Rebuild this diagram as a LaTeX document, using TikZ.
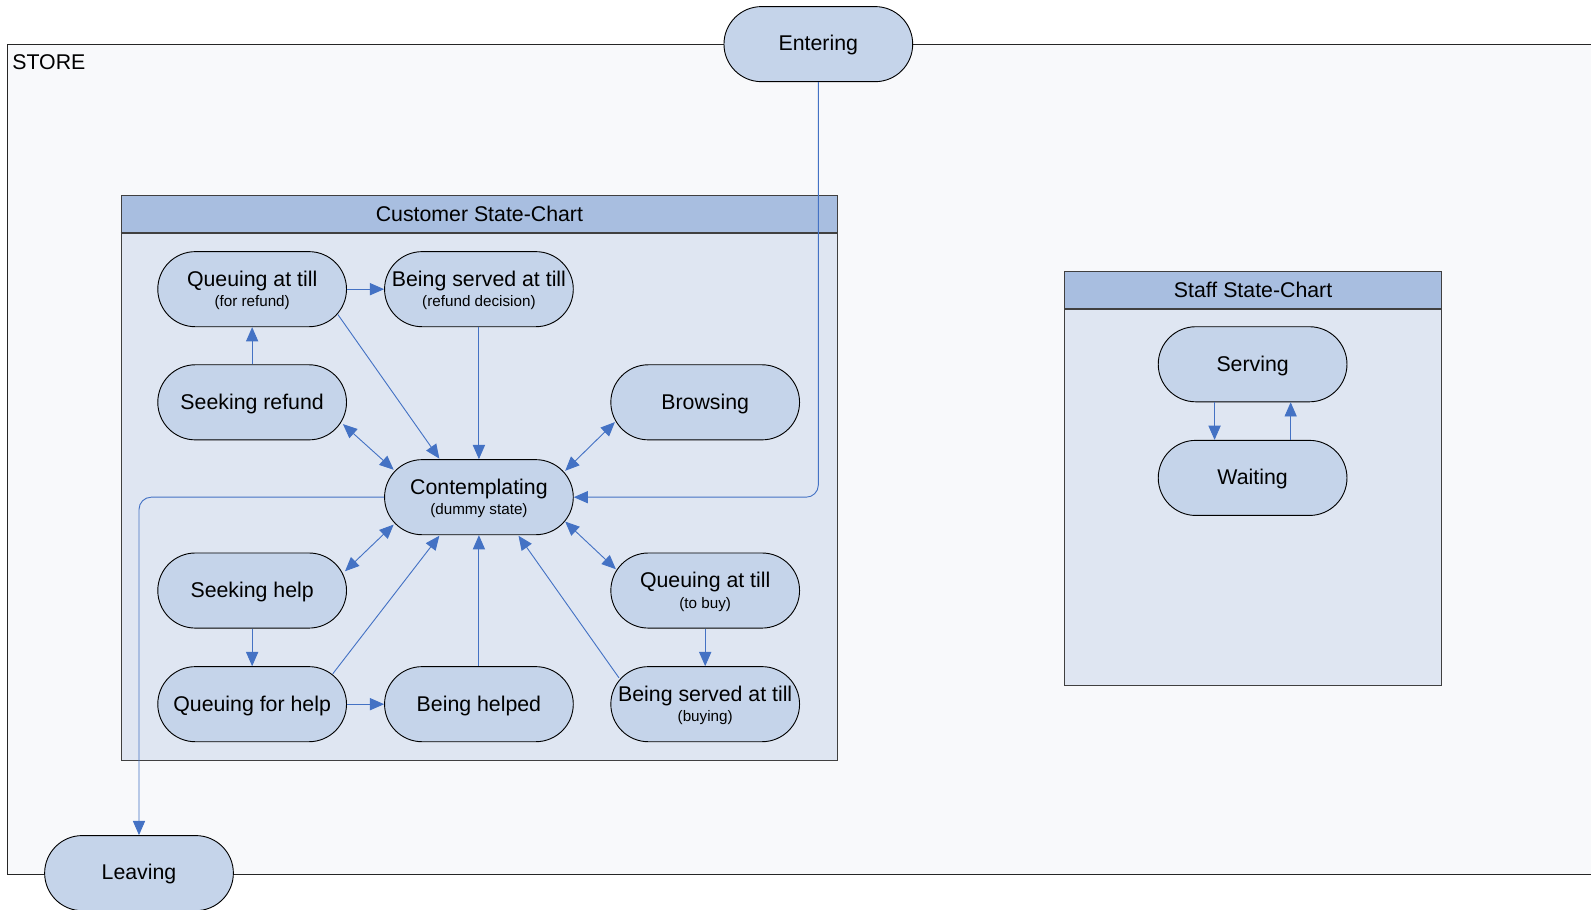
\documentclass[tikz,border=0pt]{standalone}
\usepackage{fontspec}
\setmainfont{Liberation Sans}
\usetikzlibrary{arrows.meta,calc}
\definecolor{arrowblue}{RGB}{68,114,196}
\definecolor{nodefill}{RGB}{197,212,234}
\definecolor{boxfill}{RGB}{223,230,242}
\definecolor{headfill}{RGB}{168,190,224}
\definecolor{storefill}{RGB}{248,249,251}
\newcommand\mainf{\fontsize{21}{21}\selectfont}
\newcommand\subf{\fontsize{15}{15}\selectfont}
\newcommand\upstrut{\rule{0pt}{18pt}}
\tikzset{
  state/.style={draw=black, line width=0.9pt, fill=nodefill, rounded corners=37pt,
    minimum width=186pt, minimum height=74pt, inner sep=0pt, align=center, font=\mainf},
  oneline/.style={text height=15pt, text depth=1.5pt},
  conn/.style={draw=arrowblue, line width=0.9pt, -{Triangle[length=14pt,width=12pt]}},
  bconn/.style={draw=arrowblue, line width=0.9pt, {Triangle[length=14pt,width=12pt]}-{Triangle[length=14pt,width=12pt]}},
  container/.style={draw=black!75, line width=0.9pt, fill=boxfill, anchor=north west, inner sep=0pt},
  header/.style={draw=black!75, line width=0.9pt, fill=headfill, anchor=north west, inner sep=0pt, font=\mainf},
}
\begin{document}
\begin{tikzpicture}[x=1pt,y=-1pt]
\clip (0,0) rectangle (1568,896);
\fill[white] (0,0) rectangle (1568,896);
% store
\node[draw=black!85, line width=0.9pt, fill=storefill, anchor=north west, minimum width=1600pt, minimum height=818pt, inner sep=0pt] (store) at (7,43) {};
\node[anchor=west, font=\mainf, inner sep=0pt] (storelbl) at (12,61) {STORE};
% customer box
\node[container, minimum width=706pt, minimum height=557pt] (cbox) at (119,192) {};
\node[header, minimum width=706pt, minimum height=37pt] (chead) at (119,192) {Customer State-Chart};
\draw[black!75, line width=1.6pt] (chead.south west) -- (chead.south east);
% staff box
\node[container, minimum width=371pt, minimum height=408pt] (sbox) at (1049,267) {};
\node[header, minimum width=371pt, minimum height=37pt] (shead) at (1049,267) {Staff State-Chart};
\draw[black!75, line width=1.6pt] (shead.south west) -- (shead.south east);

% states
\node[state, oneline] (ent) at (806.5,43.5) {Entering};
\node[state, oneline] (lv) at (137,860.5) {Leaving};
\node[state] (qr) at (248.5,285) {\upstrut Queuing at till\\[-1pt]{\subf (for refund)}};
\node[state] (br) at (472,285) {\upstrut Being served at till\\[-1pt]{\subf (refund decision)}};
\node[state, oneline] (sr) at (248.5,396.5) {Seeking refund};
\node[state, oneline] (bw) at (695,396.5) {Browsing};
\node[state] (ct) at (472,490) {\upstrut Contemplating\\[-1pt]{\subf (dummy state)}};
\node[state, oneline] (sh) at (248.5,582) {Seeking help};
\node[state] (qb) at (695,582) {\upstrut Queuing at till\\[-1pt]{\subf (to buy)}};
\node[state, oneline] (qh) at (248.5,694) {Queuing for help};
\node[state, oneline] (bh) at (472,694) {Being helped};
\node[state] (bb) at (695,694) {\upstrut Being served at till\\[-1pt]{\subf (buying)}};
\node[state, oneline] (sv) at (1234.5,359) {Serving};
\node[state, oneline] (wt) at (1234.5,471) {Waiting};

% connectors
\draw[conn] (qr.east) -- (br.west);
\draw[conn] (sr.north) -- (qr.south);
\draw[conn] ($(qr.center)+(84.5,25)$) -- ($(ct.center)+(-39,-38)$);
\draw[conn] (br.south) -- (ct.north);
\draw[bconn] ($(sr.center)+(89.5,21.5)$) -- ($(ct.center)+(-84,-27)$);
\draw[bconn] ($(bw.center)+(-89,19.5)$) -- ($(ct.center)+(85,-26)$);
\draw[bconn] ($(sh.center)+(91.5,-19)$) -- ($(ct.center)+(-84,27)$);
\draw[bconn] ($(qb.center)+(-88,-21)$) -- ($(ct.center)+(85,24)$);
\draw[conn] (sh.south) -- (qh.north);
\draw[conn] (qh.east) -- (bh.west);
\draw[conn] ($(qh.center)+(79.5,-30)$) -- ($(ct.center)+(-39,38)$);
\draw[conn] (bh.north) -- (ct.south);
\draw[conn] ($(bb.center)+(-85,-26)$) -- ($(ct.center)+(39,38)$);
\draw[conn] (qb.south) -- (bb.north);
\draw[conn, rounded corners=12pt] (ent.south) |- (ct.east);
\draw[conn, rounded corners=12pt] (ct.west) -| (lv.north);
\draw[conn] ($(sv.south)+(-37.5,0)$) -- ($(wt.north)+(-37.5,0)$);
\draw[conn] ($(wt.north)+(37.5,0)$) -- ($(sv.south)+(37.5,0)$);
\end{tikzpicture}
\end{document}
